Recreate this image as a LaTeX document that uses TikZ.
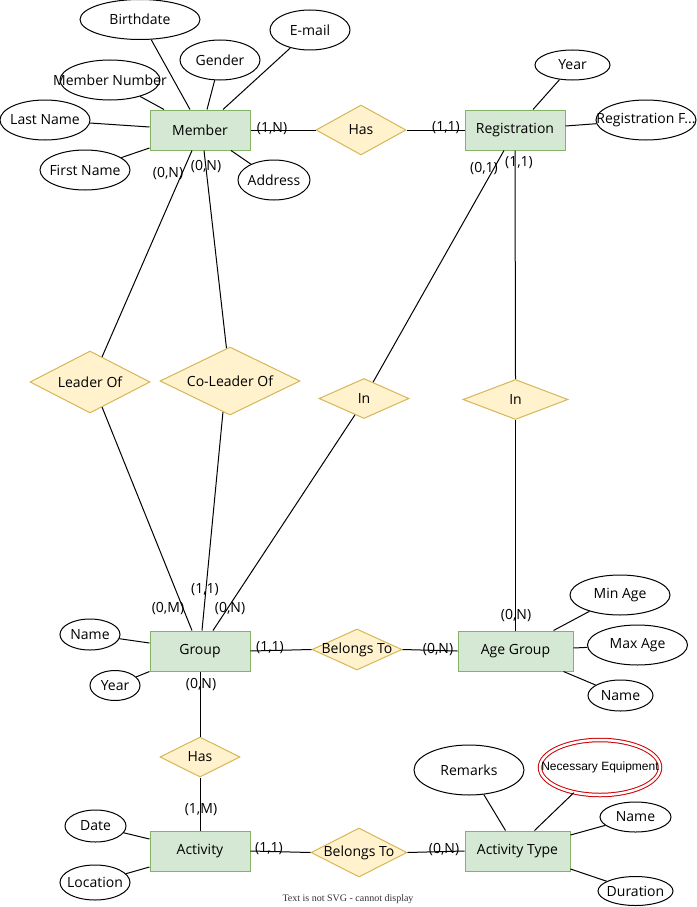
\documentclass[tikz,border=0pt]{standalone}
\usepackage{fontspec}
\setmainfont{Open Sans}
\newfontfamily\helv{Liberation Sans}
\newfontfamily\tms{Liberation Serif}
\usetikzlibrary{shapes.geometric,calc}
\definecolor{entfill}{HTML}{D5E8D4}
\definecolor{entline}{HTML}{82B366}
\definecolor{relfill}{HTML}{FFF2CC}
\definecolor{relline}{HTML}{D6B656}
\definecolor{reqred}{HTML}{CC0000}
\begin{document}
\begin{tikzpicture}[x=1pt,y=-1pt,line width=1pt,
  font=\fontsize{14}{16}\selectfont,
  entity/.style={draw=entline,fill=entfill,minimum width=100,minimum height=40,inner sep=0},
  rel/.style={diamond,draw=relline,fill=relfill,inner sep=0},
  attr/.style={ellipse,draw=black,fill=white,inner sep=0},
  card/.style={inner sep=0},
  conn/.style={draw=black,line width=1pt}]
\useasboundingbox (0,0) rectangle (696,907);

% entities
\node[entity] (member) at (200,130) {Member};
\node[entity] (reg) at (515,130) {Registration};
\node[entity] (group) at (200,651) {Group};
\node[entity,minimum width=115] (agegroup) at (515.5,651) {Age Group};
\node[entity] (activity) at (200,851) {Activity};
\node[entity,minimum width=105] (acttype) at (517.5,851) {Activity Type};

% relationships
\node[rel,minimum width=90,minimum height=50,label=center:Has] (hasT) at (361,130) {};
\node[rel,minimum width=120,minimum height=62,label=center:Leader Of] (leader) at (90,382) {};
\node[rel,minimum width=140,minimum height=68,label=center:Co-Leader Of] (coleader) at (230,381) {};
\node[rel,minimum width=90,minimum height=40,label=center:In] (inl) at (364,398.5) {};
\node[rel,minimum width=105,minimum height=40,label=center:In] (inr) at (515.5,399.5) {};
\node[rel,minimum width=90,minimum height=41,label=center:Belongs To] (belongs1) at (357,649.5) {};
\node[rel,minimum width=80,minimum height=40,label=center:Has] (hasB) at (200,757) {};
\node[rel,minimum width=96,minimum height=49,label=center:Belongs To] (belongs2) at (359,852.5) {};

% attributes
\node[attr,minimum width=120,minimum height=40,label=center:Birthdate] (birth) at (140,19.5) {};
\node[attr,minimum width=80,minimum height=40,label=center:Gender] (gender) at (220,60) {};
\node[attr,minimum width=80,minimum height=40,label=center:E-mail] (email) at (310,30) {};
\node[attr,minimum width=100,minimum height=40,label=center:Member Number] (mnum) at (110,80) {};
\node[attr,minimum width=90,minimum height=40,label=center:Last Name] (lname) at (45,120) {};
\node[attr,minimum width=90,minimum height=40,label=center:First Name] (fname) at (85,170) {};
\node[attr,minimum width=72,minimum height=40,label=center:Address] (address) at (274,180) {};
\node[attr,minimum width=75,minimum height=30,label=center:Year] (ryear) at (572.5,65) {};
\node[attr,minimum width=100,minimum height=40,label=center:Registration F...] (regf) at (646,120) {};
\node[attr,minimum width=60,minimum height=31,label=center:Name] (gname) at (90,634.5) {};
\node[attr,minimum width=50,minimum height=30,label=center:Year] (gyear) at (115,685.5) {};
\node[attr,minimum width=100,minimum height=40,label=center:Min Age] (minage) at (620,595) {};
\node[attr,minimum width=100,minimum height=40,label=center:Max Age] (maxage) at (637.5,645) {};
\node[attr,minimum width=65,minimum height=31,label=center:Name] (agname) at (620.5,695.5) {};
\node[attr,minimum width=61,minimum height=32,label=center:Date] (date) at (95.5,826) {};
\node[attr,minimum width=70,minimum height=35,label=center:Location] (location) at (95,882.5) {};
\node[attr,minimum width=110,minimum height=50,label=center:Remarks] (remarks) at (469,770) {};
\node[attr,draw=reqred,double=white,double distance=2.5pt,minimum width=120,minimum height=55,
  label={[font=\helv\fontsize{12}{14}\selectfont]center:Necessary Equipment}] (neceq) at (600,767.5) {};
\node[attr,minimum width=71,minimum height=30,label=center:Name] (atname) at (635.5,817) {};
\node[attr,minimum width=75,minimum height=29,label=center:Duration] (duration) at (635.5,891) {};

% attribute connectors
\draw[conn] ($(member.north)+(-10,0)$) -- (birth);
\draw[conn] ($(member.north)+(7,0)$) -- (gender);
\draw[conn] ($(member.north)+(23,0)$) -- (email);
\draw[conn] ($(member.north)+(-36,0)$) -- (mnum);
\draw[conn] ($(member.west)+(0,-3)$) -- (lname);
\draw[conn] ($(member.west)+(0,18)$) -- (fname);
\draw[conn] ($(member.south)+(31,0)$) -- (address);
\draw[conn] ($(reg.north)+(18,0)$) -- (ryear);
\draw[conn] ($(reg.east)+(0,-4)$) -- (regf);
\draw[conn] ($(group.west)+(0,-8)$) -- (gname);
\draw[conn] (group.south west) -- (gyear);
\draw[conn] ($(agegroup.north)+(38,0)$) -- (minage);
\draw[conn] ($(agegroup.east)+(0,-3)$) -- (maxage);
\draw[conn] ($(agegroup.south)+(48,0)$) -- (agname);
\draw[conn] ($(activity.west)+(0,-12)$) -- (date);
\draw[conn] ($(activity.west)+(0,16)$) -- (location);
\draw[conn] ($(acttype.north)+(-12,0)$) -- (remarks);
\draw[conn] ($(acttype.north)+(17,0)$) -- (neceq);
\draw[conn] ($(acttype.east)+(0,-16)$) -- (atname);
\draw[conn] ($(acttype.east)+(0,18)$) -- (duration);

% relationship connectors
\draw[conn] (member.east) -- (hasT.west);
\draw[conn] (hasT.east) -- (reg.west);
\draw[conn] ($(member.south)+(-8,0)$) -- ($(leader.north)!0.2!(leader.east)$);
\draw[conn] ($(leader.south)!0.2!(leader.east)$) -- ($(group.north)+(-8,0)$);
\draw[conn] ($(member.south)+(4,0)$) -- ($(coleader.north)!0.05!(coleader.west)$);
\draw[conn] ($(coleader.south)!0.1!(coleader.west)$) -- ($(group.north)+(2,0)$);
\draw[conn] ($(reg.south)+(-11,0)$) -- ($(inl.north)!0.2!(inl.east)$);
\draw[conn] ($(inl.south)!0.2!(inl.west)$) -- ($(group.north)+(13,0)$);
\draw[conn] (reg.south) -- (inr.north);
\draw[conn] (inr.south) -- (agegroup.north);
\draw[conn] (group.east) -- (belongs1.west);
\draw[conn] (belongs1.east) -- (agegroup.west);
\draw[conn] (group.south) -- (hasB.north);
\draw[conn] (hasB.south) -- (activity.north);
\draw[conn] (activity.east) -- (belongs2.west);
\draw[conn] (belongs2.east) -- (acttype.west);

% cardinalities
\node[card] (c1) at (272,129) {(1,N)};
\node[card] (c2) at (168,174) {(0,N)};
\node[card] (c3) at (206,167) {(0,N)};
\node[card] (c4) at (446,128) {(1,1)};
\node[card] (c5) at (484,169) {(0,1)};
\node[card] (c6) at (519,163) {(1,1)};
\node[card] (c7) at (168,609) {(0,M)};
\node[card] (c8) at (205,590) {(1,1)};
\node[card] (c9) at (230,609) {(0,N)};
\node[card] (c10) at (270,648) {(1,1)};
\node[card] (c11) at (201,685) {(0,N)};
\node[card] (c12) at (438,650) {(0,N)};
\node[card] (c13) at (516,616) {(0,N)};
\node[card] (c14) at (201,810) {(1,M)};
\node[card] (c15) at (269,849) {(1,1)};
\node[card] (c16) at (444,850) {(0,N)};

\node[font=\tms\fontsize{10}{12}\selectfont,text=black!80] (note) at (348,899) {Text is not SVG - cannot display};
\end{tikzpicture}
\end{document}
